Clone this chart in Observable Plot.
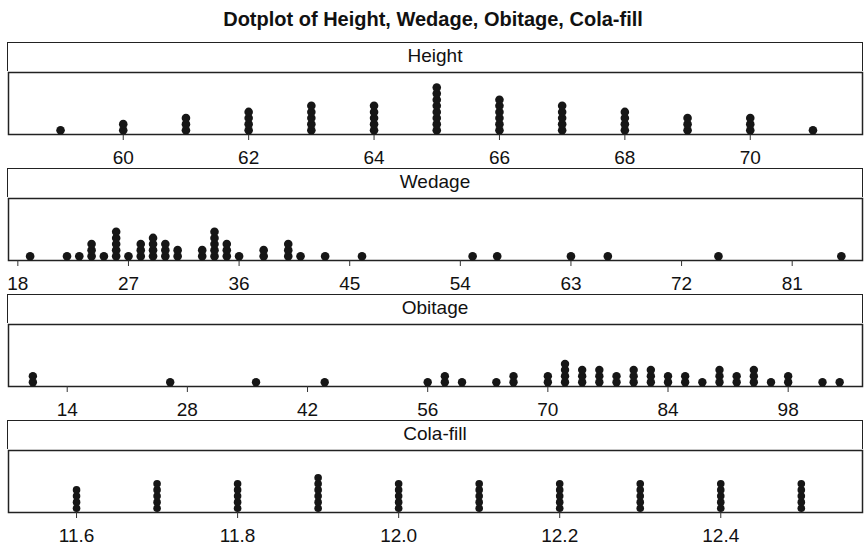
<!DOCTYPE html>
<html>
<head>
<meta charset="utf-8">
<script src="https://cdn.jsdelivr.net/npm/d3@7"></script>
<script src="https://cdn.jsdelivr.net/npm/@observablehq/plot@0.6"></script>
<style>
  body { margin: 0; background: #fff; font-family: "Liberation Sans", Arial, sans-serif; }
  #title { height: 42px; line-height: 38px; text-align: center; font-weight: bold; font-size: 20px; color: #111; width: 866px; }
  .hdr { box-sizing: border-box; margin-left: 7.25px; width: 855.5px; height: 29px; border: 1.5px solid #222; border-bottom: none;
         text-align: center; font-size: 19px; line-height: 26px; color: #111; }
  svg { display: block; overflow: visible; }
</style>
</head>
<body>
<div id="title">Dotplot of Height, Wedage, Obitage, Cola-fill</div>
<div id="chart"></div>
<script>
// ---- data ----
const panelNames = ["Height", "Wedage", "Obitage", "Cola-fill"];

const heightValues = [59, 60, 61, 62, 63, 64, 65, 66, 67, 68, 69, 70, 71];
const heightCounts = [1, 2, 3, 4, 5, 5, 8, 6, 5, 4, 3, 3, 1];
const heightTicks = [60, 62, 64, 66, 68, 70];

const wedageValues = [19, 22, 23, 24, 25, 26, 27, 28, 29, 30, 31, 33, 34, 35, 36, 38, 40, 41, 43, 46, 55, 57, 63, 66, 75, 85];
const wedageCounts = [1, 1, 1, 3, 1, 5, 1, 3, 4, 3, 2, 2, 5, 3, 1, 2, 3, 1, 1, 1, 1, 1, 1, 1, 1, 1];
const wedageTicks = [18, 27, 36, 45, 54, 63, 72, 81];

const obitageValues = [10, 26, 36, 44, 56, 58, 60, 64, 66, 70, 72, 74, 76, 78, 80, 82, 84, 86, 88, 90, 92, 94, 96, 98, 102, 104];
const obitageCounts = [2, 1, 1, 1, 1, 2, 1, 1, 2, 2, 4, 3, 3, 2, 3, 3, 2, 2, 1, 3, 2, 3, 1, 2, 1, 1];
const obitageTicks = [14, 28, 42, 56, 70, 84, 98];

const colaValues = [11.6, 11.7, 11.8, 11.9, 12.0, 12.1, 12.2, 12.3, 12.4, 12.5];
const colaCounts = [4, 5, 5, 6, 5, 5, 5, 5, 5, 5];
const colaTicks = [11.6, 11.8, 12.0, 12.2, 12.4];

// ---- drawing ----
const panels = [
  {name: panelNames[0], values: heightValues, counts: heightCounts, ticks: heightTicks, domain: [58.17, 71.79], fmt: d3.format("d"), r: 4.3},
  {name: panelNames[1], values: wedageValues, counts: wedageCounts, ticks: wedageTicks, domain: [17.24, 86.72], fmt: d3.format("d"), r: 4.3},
  {name: panelNames[2], values: obitageValues, counts: obitageCounts, ticks: obitageTicks, domain: [7.16, 106.66], fmt: d3.format("d"), r: 4.2},
  {name: panelNames[3], values: colaValues, counts: colaCounts, ticks: colaTicks, domain: [11.5155, 12.576], fmt: d3.format(".1f"), r: 3.8}
];

const chart = document.getElementById("chart");
for (const p of panels) {
  const dots = p.values.flatMap((v, i) => d3.range(p.counts[i]).map(k => ({v, k})));
  const hdr = document.createElement("div");
  hdr.className = "hdr";
  hdr.textContent = p.name;
  chart.appendChild(hdr);
  const svg = Plot.plot({
    width: 866,
    height: 97,
    marginLeft: 8,
    marginRight: 4,
    marginTop: 1,
    marginBottom: 34,
    style: {fontFamily: "'Liberation Sans', Arial, sans-serif", color: "#111", background: "transparent"},
    x: {domain: p.domain},
    y: {domain: [-0.7, 9.46], axis: null},
    marks: [
      Plot.frame({stroke: "#222", strokeWidth: 1.5}),
      Plot.axisX({ticks: p.ticks, tickFormat: p.fmt, tickSize: 6, tickPadding: 10, fontSize: 19, label: null, stroke: "#333"}),
      Plot.dot(dots, {x: "v", y: "k", r: p.r, fill: "#161616", stroke: "none"})
    ]
  });
  chart.appendChild(svg);
}
</script>
</body>
</html>
